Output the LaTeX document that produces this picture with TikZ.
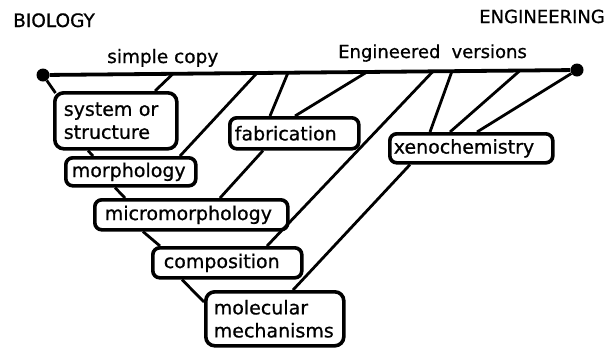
\documentclass[tikz,border=0pt]{standalone}
\usepackage{fontspec}
\setmainfont[FakeBold=0.8]{DejaVu Sans}
\usetikzlibrary{calc}
\begin{document}
\begin{tikzpicture}[x=1pt,y=-1pt,
  box/.style={draw, line width=3.6pt, rounded corners=7pt, anchor=north west, align=left, inner ysep=0pt, font=\fontsize{19}{23}\selectfont},
  conn/.style={line width=2.8pt},
  hdr/.style={anchor=base west, inner sep=0pt, font=\fontsize{18.5}{22}\selectfont},
  dotnode/.style={circle, fill, inner sep=0pt, minimum size=13pt}]
\useasboundingbox (0,0) rectangle (613,349);

% headers
\node[hdr] (bio) at (13,27) {BIOLOGY};
\node[hdr, anchor=base east, font=\fontsize{18}{22}\selectfont] (eng) at (605,23) {ENGINEERING};
\node[hdr] (simple) at (107,63) {simple copy};
\node[hdr, font=\fontsize{18}{22}\selectfont] (engv) at (338,58) {Engineered\hspace{0.3em} versions};

% main line
\node[dotnode] (L) at (43,75) {};
\node[dotnode] (R) at (577,70) {};
\draw[line width=3.8pt] (L) -- (R);

% boxes
\node[box, inner xsep=9pt, text width=104pt, minimum height=56pt, rounded corners=9pt] (sys) at (53,91) {system or\\structure};
\node[box, inner xsep=6pt, text width=118pt, minimum height=28pt] (morph) at (64,156) {morphology};
\node[box, inner xsep=10pt, text width=173pt, minimum height=30pt] (micro) at (93,198) {micromorphology};
\node[box, inner xsep=11pt, text width=127pt, minimum height=30pt] (comp) at (151,246) {composition};
\node[box, inner xsep=8pt, text width=122pt, minimum height=54pt, rounded corners=9pt] (mol) at (204,290) {molecular\\mechanisms};
\node[box, inner xsep=5pt, text width=119pt, minimum height=31pt] (fab) at (228,116) {fabrication};
\node[box, inner xsep=4pt, text width=155pt, minimum height=29pt] (xeno) at (388,132) {xenochemistry};

% points on the main line
\coordinate (t1) at ($(L)!0.2434!(R)$);
\coordinate (t2) at ($(L)!0.4007!(R)$);
\coordinate (t3) at ($(L)!0.4588!(R)$);
\coordinate (t4) at ($(L)!0.6067!(R)$);
\coordinate (t5) at ($(L)!0.7303!(R)$);
\coordinate (t6) at ($(L)!0.7659!(R)$);
\coordinate (t7) at ($(L)!0.8933!(R)$);

% connectors
\draw[conn] (L) -- ($(sys.north west)+(2.5,2)$);
\draw[conn] (t1) -- ($(sys.north west)+(102,0)$);
\draw[conn] ($(sys.south west)+(35,0)$) -- ($(morph.north west)+(29,0)$);
\draw[conn] (t2) -- ($(morph.north west)+(116,0)$);
\draw[conn] ($(morph.south west)+(51,0)$) -- ($(micro.north west)+(32,0)$);
\draw[conn] (t3) -- ($(fab.north west)+(42,0)$);
\draw[conn] (t4) -- ($(fab.north west)+(67,0)$);
\draw[conn] ($(fab.south west)+(35,0)$) -- ($(micro.north west)+(127,0)$);
\draw[conn] ($(micro.south west)+(50,0)$) -- ($(comp.north west)+(9,0)$);
\draw[conn] (t5) -- ($(comp.north west)+(116,0)$);
\draw[conn] ($(comp.south west)+(31,0)$) -- ($(mol.north west)+(0,12)$);
\draw[conn] ($(mol.north west)+(89,0)$) -- ($(xeno.south west)+(22,0)$);
\draw[conn] (t6) -- ($(xeno.north west)+(42,0)$);
\draw[conn] (t7) -- ($(xeno.north west)+(62,0)$);
\draw[conn] (R) -- ($(xeno.north west)+(89,0)$);
\end{tikzpicture}
\end{document}
